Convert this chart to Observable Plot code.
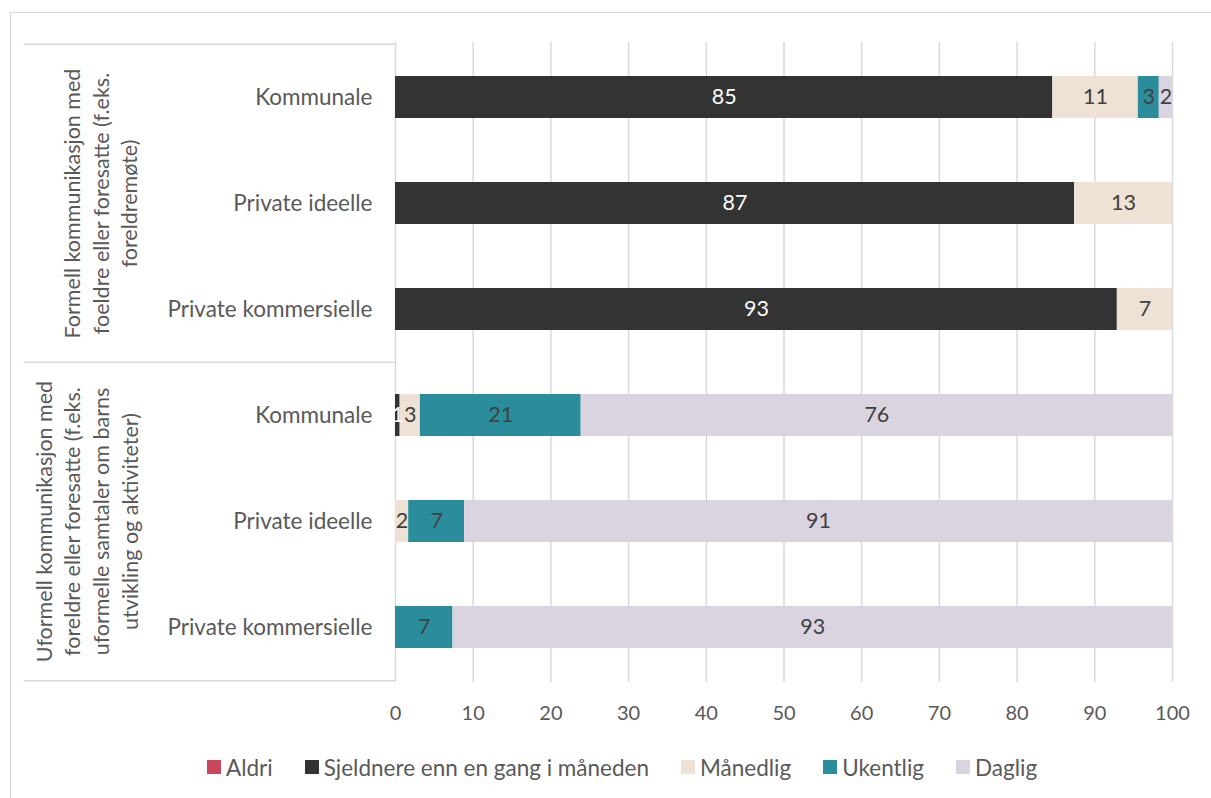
<!DOCTYPE html>
<html>
<head>
<meta charset="utf-8">
<script src="https://cdn.jsdelivr.net/npm/d3@7"></script>
<script src="https://cdn.jsdelivr.net/npm/@observablehq/plot@0.6"></script>
<style>
  html, body { margin: 0; padding: 0; background: #fff; }
  #wrap { position: relative; width: 1211px; height: 798px; overflow: hidden; font-family: Lato, "Noto Sans", sans-serif; }
  #border { position: absolute; left: 10px; top: 12px; width: 1300px; height: 900px; border: 1px solid #d9d9d9; box-sizing: border-box; }
  #chart { position: absolute; left: 0; top: 0; }
  #legend { position: absolute; left: 207px; top: 753px; height: 28px; display: flex; align-items: center; font-size: 22.5px; color: #595959; white-space: nowrap; }
  #legend .item { display: flex; align-items: center; margin-right: 32px; }
  #legend .sw { width: 14px; height: 14px; margin-right: 5px; display: inline-block; }
</style>
</head>
<body>
<div id="wrap">
  <div id="border"></div>
  <div id="chart"></div>
  <div id="legend"></div>
</div>
<script>
const groups = [
  "Formell kommunikasjon med\nfoeldre eller foresatte (f.eks.\nforeldremøte)",
  "Uformell kommunikasjon med\nforeldre eller foresatte (f.eks.\nuformelle samtaler om barns\nutvikling og aktiviteter)"
];
const categories = ["Kommunale", "Private ideelle", "Private kommersielle"];
const series = ["Aldri", "Sjeldnere enn en gang i måneden", "Månedlig", "Ukentlig", "Daglig"];
const colors = ["#c9475a", "#333333", "#ede2d3", "#2b8c9c", "#dad3e0"];
// values per row: group 1 (Kommunale, Private ideelle, Private kommersielle), group 2 (same)
const aldri      = [0,    0,    0,    0,    0,    0];
const sjeldnere  = [84.6, 87.4, 92.9, 0.6,  0,    0];
const maanedlig  = [11.0, 12.6, 7.1,  2.6,  1.7,  0];
const ukentlig   = [2.7,  0,    0,    20.7, 7.2,  7.4];
const daglig     = [1.7,  0,    0,    76.1, 91.1, 92.6];
const xTicks = [0, 10, 20, 30, 40, 50, 60, 70, 80, 90, 100];

const seriesValues = [aldri, sjeldnere, maanedlig, ukentlig, daglig];
const rows = [];
groups.forEach((g, gi) => categories.forEach((c, ci) => rows.push({key: gi + "|" + c, group: gi, category: c})));
const data = [];
rows.forEach((r, ri) => {
  series.forEach((s, si) => {
    data.push({row: r.key, series: s, value: seriesValues[si][ri]});
  });
});
const nonzero = data.filter(d => d.value > 0);
const darkLabel = d => d.series === series[1] ? String(Math.round(d.value)) : "";
const lightLabel = d => d.series !== series[1] ? String(Math.round(d.value)) : "";

const FONT = "Lato, 'Noto Sans', sans-serif";
const barText = {fontSize: 21.5, fontFamily: FONT};

const plot = Plot.plot({
  width: 1211,
  height: 740,
  marginTop: 42,
  marginBottom: 58,
  marginLeft: 395,
  marginRight: 39,
  style: {fontFamily: FONT, fontSize: "20px", color: "#595959", background: "transparent"},
  x: {domain: [0, 100], ticks: xTicks, label: null},
  y: {domain: rows.map(r => r.key), paddingInner: 0.6, paddingOuter: 0.3, label: null},
  color: {domain: series, range: colors},
  marks: [
    Plot.ruleX(xTicks.filter(t => t > 0), {stroke: "#d9d9d9", strokeWidth: 1.5}),
    Plot.ruleX([0], {stroke: "#d9d9d9", strokeWidth: 1.5}),
    // group separators
    Plot.ruleY([rows[0].key, rows[3].key], {x1: -47.8, x2: 0, dy: -53.33, stroke: "#d9d9d9", strokeWidth: 1.5, clip: false}),
    Plot.ruleY([rows[5].key], {x1: -47.8, x2: 0, dy: 53.33, stroke: "#d9d9d9", strokeWidth: 1.5, clip: false}),
    Plot.barX(nonzero, Plot.stackX({x: "value", y: "row", fill: "series", order: series})),
    Plot.text(nonzero, Plot.stackX({x: "value", y: "row", z: "series", order: series, text: darkLabel, fill: "white", ...barText})),
    Plot.text(nonzero, Plot.stackX({x: "value", y: "row", z: "series", order: series, text: lightLabel, fill: "#404040", ...barText})),
    Plot.axisX({ticks: xTicks, tickSize: 0, tickPadding: 23, fontSize: 20, fill: "#595959", label: null}),
    Plot.axisY({tickSize: 0, tickPadding: 23, tickFormat: k => k.split("|")[1], fontSize: 22.5, fill: "#595959", label: null}),
    Plot.text([groups[0]], {x: 0, y: [rows[1].key], text: d => d, rotate: -90, dx: -296, textAnchor: "middle", lineAnchor: "middle", lineHeight: 1.33, fill: "#595959", fontSize: 21.5}),
    Plot.text([groups[1]], {x: 0, y: [rows[4].key], text: d => d, rotate: -90, dx: -310, textAnchor: "middle", lineAnchor: "middle", lineHeight: 1.33, fill: "#595959", fontSize: 21.5})
  ]
});
document.getElementById("chart").appendChild(plot);

const legend = document.getElementById("legend");
series.forEach((s, i) => {
  const item = document.createElement("div");
  item.className = "item";
  const sw = document.createElement("span");
  sw.className = "sw";
  sw.style.background = colors[i];
  const t = document.createElement("span");
  t.textContent = s;
  item.appendChild(sw);
  item.appendChild(t);
  legend.appendChild(item);
});
</script>
</body>
</html>
